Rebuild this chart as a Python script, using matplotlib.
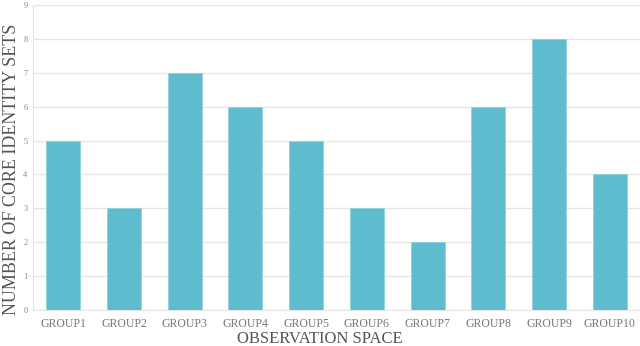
import matplotlib.pyplot as plt

groups = ['GROUP1', 'GROUP2', 'GROUP3', 'GROUP4', 'GROUP5',
          'GROUP6', 'GROUP7', 'GROUP8', 'GROUP9', 'GROUP10']
counts = [5, 3, 7, 6, 5, 3, 2, 6, 8, 4]
yticks = list(range(0, 10))

plt.rcParams['font.family'] = ['Liberation Serif', 'DejaVu Serif']

fig = plt.figure(figsize=(6.4, 3.46), dpi=100)
ax = fig.add_axes([0.0516, 0.104, 0.9484, 0.8815])

ax.bar(range(len(groups)), counts, width=0.56, color='#5fbcce',
       edgecolor='#8fd3df', linewidth=0.6, zorder=3)

ax.set_xlim(-0.5, len(groups) - 0.5)
ax.set_ylim(0, 9)
ax.set_yticks(yticks)
ax.set_yticklabels([str(t) for t in yticks], fontsize=6, color='#888888')
ax.set_xticks(range(len(groups)))
ax.set_xticklabels(groups, fontsize=8.5, color='#777777')
ax.tick_params(axis='both', length=0, pad=4)
ax.tick_params(axis='x', pad=6)

ax.grid(axis='y', color='#e6e6e6', linewidth=1, zorder=0)
for s in ['top', 'right']:
    ax.spines[s].set_visible(False)
ax.spines['left'].set_color('#e6e6e6')
ax.spines['bottom'].set_color('#e6e6e6')

ax.set_xlabel('OBSERVATION SPACE', fontsize=12, color='#555555')
ax.xaxis.set_label_coords(0.472, -0.068)
ax.set_ylabel('NUMBER OF CORE IDENTITY SETS', fontsize=13, color='#555555')
ax.yaxis.set_label_coords(-0.022, 0.46)

plt.savefig('out.png', dpi=100)
